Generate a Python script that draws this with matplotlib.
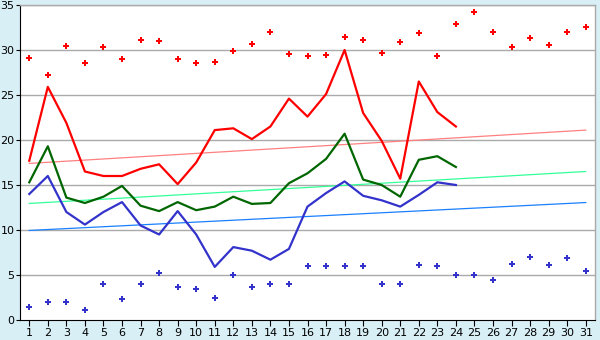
import numpy as np
import matplotlib
matplotlib.use("Agg")
import matplotlib.pyplot as plt

days = list(range(1, 32))

# daily maximum records (diamonds, red) and minimum records (diamonds, blue)
record_high = [29.1, 27.2, 30.5, 28.6, 30.3, 29.0, 31.1, 31.0, 29.0, 28.6,
               28.7, 29.9, 30.7, 32.0, 29.6, 29.3, 29.5, 31.4, 31.1, 29.7,
               30.9, 31.9, 29.3, 32.9, 34.2, 32.0, 30.3, 31.3, 30.6, 32.0, 32.6]
record_low = [1.5, 2.0, 2.0, 1.1, 4.0, 2.3, 4.0, 5.2, 3.7, 3.4,
              2.4, 5.0, 3.7, 4.0, 4.0, 6.0, 6.0, 6.0, 6.0, 4.0,
              4.0, 6.1, 6.0, 5.0, 5.0, 4.4, 6.2, 7.0, 6.1, 6.9, 5.5]

# observed values for days 1-24
obs_days = list(range(1, 25))
obs_max = [17.7, 25.9, 21.9, 16.5, 16.0, 16.0, 16.8, 17.3, 15.1, 17.5,
           21.1, 21.3, 20.1, 21.5, 24.6, 22.6, 25.1, 30.0, 23.0, 19.9,
           15.7, 26.5, 23.1, 21.5]
obs_mean = [15.3, 19.3, 13.6, 13.0, 13.7, 14.9, 12.7, 12.1, 13.1, 12.2,
            12.6, 13.7, 12.9, 13.0, 15.2, 16.3, 17.9, 20.7, 15.6, 15.0,
            13.7, 17.8, 18.2, 17.0]
obs_min = [14.0, 16.0, 12.0, 10.6, 12.0, 13.1, 10.5, 9.5, 12.1, 9.5,
           5.9, 8.1, 7.7, 6.7, 7.9, 12.6, 14.1, 15.4, 13.8, 13.3,
           12.6, 13.9, 15.3, 15.0]

# long-term normals at the first and last day of the month
normal_max = [17.4, 21.1]
normal_mean = [12.95, 16.5]
normal_min = [9.95, 13.05]

yticks = [0, 5, 10, 15, 20, 25, 30, 35]

bg = "#d9eff6"
fig = plt.figure(figsize=(6.0, 3.4), dpi=100, facecolor=bg)
ax = fig.add_axes([20 / 600, 1 - 320 / 340, 575 / 600, 315 / 340])
ax.set_facecolor("white")

ax.set_xlim(0.5, 31.5)
ax.set_ylim(0, 35)

for y in yticks[1:]:
    ax.axhline(y, color="#aaaaaa", lw=1.0, zorder=1)

ends = [days[0], days[-1]]
ax.plot(ends, normal_max, color="#ff8080", lw=0.9, zorder=2)
ax.plot(ends, normal_mean, color="#33ff99", lw=0.9, zorder=2)
ax.plot(ends, normal_min, color="#1a80ff", lw=0.9, zorder=2)

ax.plot(obs_days, obs_max, color="#ff0000", lw=1.6, zorder=3)
ax.plot(obs_days, obs_mean, color="#006600", lw=1.6, zorder=3)
ax.plot(obs_days, obs_min, color="#3333cc", lw=1.6, zorder=3)

ax.scatter(days, record_high, marker="P", s=20, color="#ff0000", linewidths=0, zorder=4)
ax.scatter(days, record_low, marker="P", s=20, color="#3333cc", linewidths=0, zorder=4)

ax.set_xticks(days)
ax.set_xticklabels([str(d) for d in days])
ax.set_yticks(yticks)
ax.set_yticklabels([str(v) for v in yticks])
ax.tick_params(axis="x", labelsize=8, colors="black", length=4, width=0.8, pad=2)
ax.tick_params(axis="y", labelsize=8, colors="black", length=3, width=0.8, pad=1)

for side in ("left", "bottom"):
    ax.spines[side].set_color("black")
    ax.spines[side].set_linewidth(0.8)
for side in ("top", "right"):
    ax.spines[side].set_color("#aaaaaa")
    ax.spines[side].set_linewidth(1.0)

fig.savefig("out.png", dpi=100, facecolor=bg)
